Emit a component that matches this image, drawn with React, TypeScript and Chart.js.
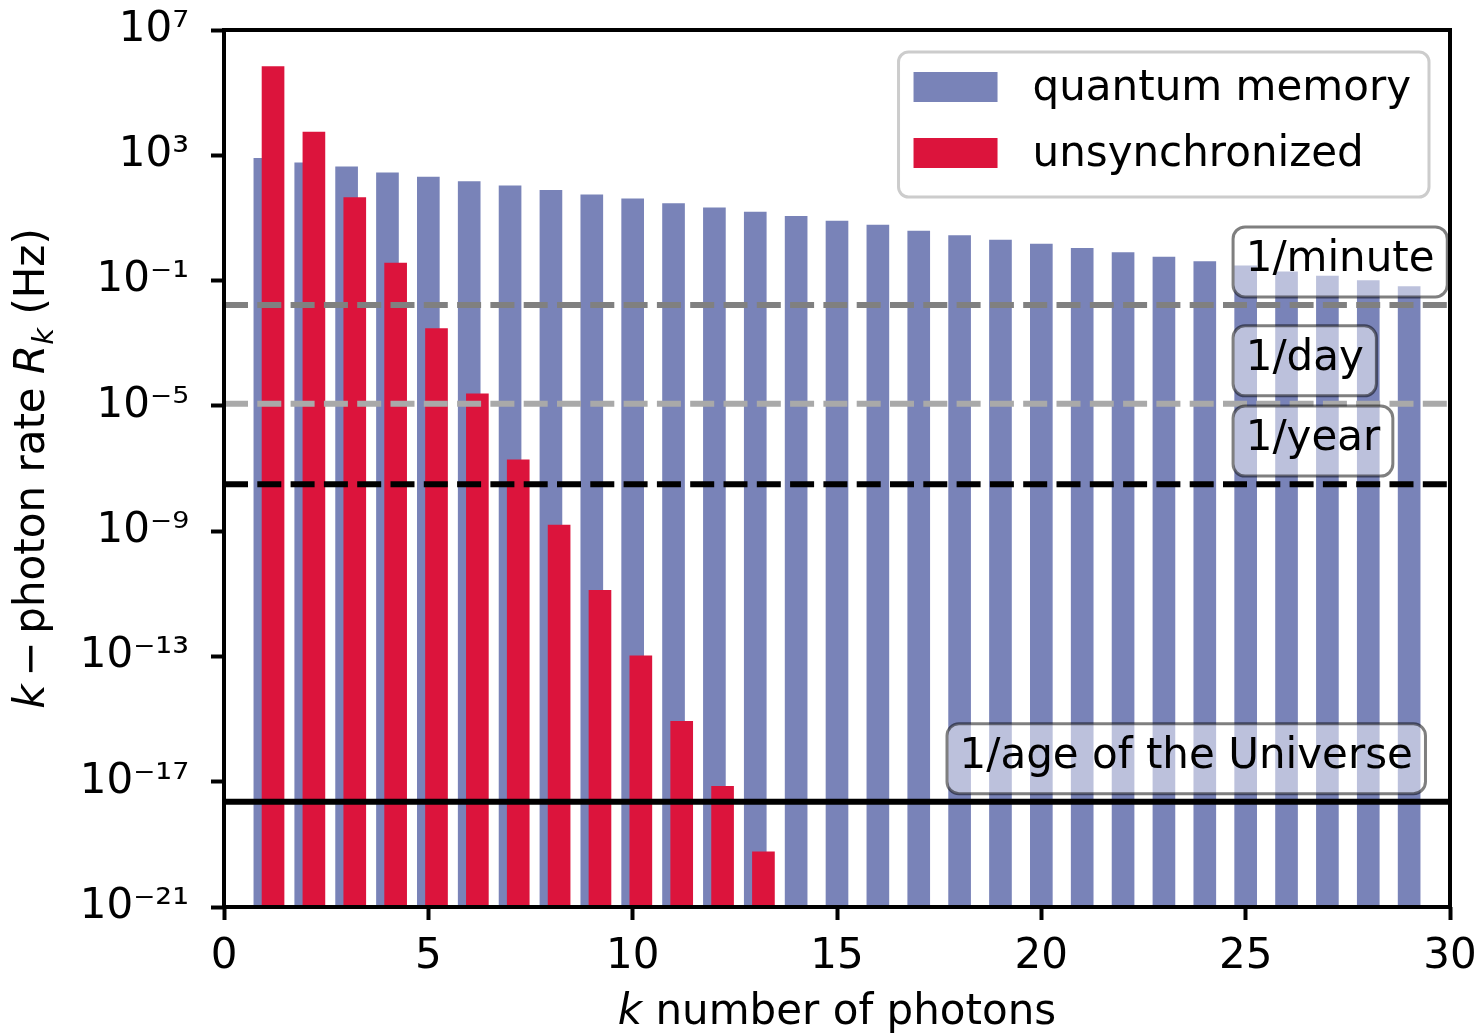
import React, { useEffect, useRef } from "react";
import { Chart, registerables } from "chart.js";

Chart.register(...registerables);

// ---------- data ----------
const photonNumbers = [1, 2, 3, 4, 5, 6, 7, 8, 9, 10, 11, 12, 13, 14, 15, 16, 17, 18, 19, 20, 21, 22, 23, 24, 25, 26, 27, 28, 29];
const quantumMemoryRates = [794, 575, 427, 275, 200, 145, 105, 75.9, 55, 40.7, 28.8, 20.9, 15.5, 11.2, 7.94, 5.89, 3.8, 2.75, 1.95, 1.45, 1.07, 0.776, 0.562, 0.407, 0.295, 0.19, 0.138, 0.1, 0.0646];
const unsynchronizedPhotonNumbers = [1, 2, 3, 4, 5, 6, 7, 8, 9, 10, 11, 12, 13];
const unsynchronizedRates = [6.8e5, 5.5e3, 45, 0.36, 2.95e-3, 2.4e-5, 1.9e-7, 1.55e-9, 1.29e-11, 1.05e-13, 8.5e-16, 7.1e-18, 5.75e-20];
const unsynchronizedShift = 0.2;

const seriesNames = ["quantum memory", "unsynchronized"];

const xTickValues = [0, 5, 10, 15, 20, 25, 30];
const yTickValues = [1e7, 1e3, 1e-1, 1e-5, 1e-9, 1e-13, 1e-17, 1e-21];
const yTickLabels = ["10⁷", "10³", "10⁻¹", "10⁻⁵", "10⁻⁹", "10⁻¹³", "10⁻¹⁷", "10⁻²¹"];

const thresholdNames = ["1/minute", "1/day", "1/year", "1/age of the Universe"];
const thresholdRates = [1 / 60, 1 / 86400, 1 / 31557600, 1 / 4.35e17];
const thresholdLabelX = [25, 25, 25, 18];

const xTitleParts = [
  { text: "k", italic: true },
  { text: " number of photons", italic: false },
];
const yTitleParts = [
  { text: "k", italic: true, sub: false },
  { text: " − ", italic: false, sub: false, narrow: true },
  { text: "photon rate ", italic: false, sub: false },
  { text: "R", italic: true, sub: false },
  { text: "k", italic: true, sub: true },
  { text: " (Hz)", italic: false, sub: false },
];

// ---------- styles ----------
const FAMILY = '"DejaVu Sans", sans-serif';
const FONT_SIZE = 42;
const BLUE = "#7983B8";
const RED = "#DC143C";
const thresholdColors = ["#808080", "#A9A9A9", "#000000", "#000000"];
const thresholdDashes = [[24, 9.3], [24, 9.3], [24, 9.3], []];
const LABEL_LIFT = 12.2; // label baseline placed at rate * this factor

function roundRectPath(ctx: CanvasRenderingContext2D, x: number, y: number, w: number, h: number, r: number) {
  ctx.beginPath();
  ctx.moveTo(x + r, y);
  ctx.lineTo(x + w - r, y);
  ctx.arcTo(x + w, y, x + w, y + r, r);
  ctx.lineTo(x + w, y + h - r);
  ctx.arcTo(x + w, y + h, x + w - r, y + h, r);
  ctx.lineTo(x + r, y + h);
  ctx.arcTo(x, y + h, x, y + h - r, r);
  ctx.lineTo(x, y + r);
  ctx.arcTo(x, y, x + r, y, r);
  ctx.closePath();
}

const overlayPlugin = {
  id: "overlay",
  afterDatasetsDraw(chart: any) {
    const { ctx, chartArea: a, scales } = chart;
    const xs = scales.x;
    const ys = scales.y;
    ctx.save();

    // threshold lines
    ctx.save();
    ctx.beginPath();
    ctx.rect(a.left, a.top, a.right - a.left, a.bottom - a.top);
    ctx.clip();
    thresholdRates.forEach((rate, i) => {
      const y = ys.getPixelForValue(rate);
      ctx.strokeStyle = thresholdColors[i];
      ctx.lineWidth = 6;
      ctx.lineCap = "butt";
      ctx.setLineDash(thresholdDashes[i]);
      ctx.lineDashOffset = 0;
      ctx.beginPath();
      ctx.moveTo(a.left, y);
      ctx.lineTo(a.right, y);
      ctx.stroke();
    });
    ctx.restore();

    // frame
    ctx.setLineDash([]);
    ctx.strokeStyle = "#000";
    ctx.lineWidth = 4;
    ctx.strokeRect(a.left, a.top, a.right - a.left, a.bottom - a.top);

    // threshold labels
    ctx.font = `${FONT_SIZE}px ${FAMILY}`;
    ctx.textAlign = "left";
    ctx.textBaseline = "alphabetic";
    thresholdNames.forEach((name, i) => {
      const x = xs.getPixelForValue(thresholdLabelX[i]);
      const base = ys.getPixelForValue(thresholdRates[i] * LABEL_LIFT);
      const w = ctx.measureText(name).width;
      roundRectPath(ctx, x - 12.6, base - 44, w + 25.2, 70, 12);
      ctx.fillStyle = "rgba(255,255,255,0.5)";
      ctx.fill();
      ctx.strokeStyle = "rgba(0,0,0,0.5)";
      ctx.lineWidth = 3;
      ctx.stroke();
      ctx.fillStyle = "#000";
      ctx.fillText(name, x, base);
    });

    // legend
    const colors = [BLUE, RED];
    const textW = Math.max(...seriesNames.map((n) => ctx.measureText(n).width));
    const lw = 15 + 84 + 35 + textW + 18;
    const lh = 145;
    const lx = a.right - 21 - lw;
    const ly = a.top + 22;
    roundRectPath(ctx, lx, ly, lw, lh, 10);
    ctx.fillStyle = "rgba(255,255,255,0.8)";
    ctx.fill();
    ctx.strokeStyle = "#cccccc";
    ctx.lineWidth = 3;
    ctx.stroke();
    seriesNames.forEach((name, i) => {
      const cy = ly + 35 + i * 66;
      ctx.fillStyle = colors[i];
      ctx.fillRect(lx + 15, cy - 15, 84, 30);
      ctx.fillStyle = "#000";
      ctx.fillText(name, lx + 15 + 84 + 35, cy + 13);
    });

    ctx.restore();
  },
  afterDraw(chart: any) {
    const { ctx, chartArea: a } = chart;
    ctx.save();
    ctx.fillStyle = "#000";
    ctx.textAlign = "left";
    ctx.textBaseline = "alphabetic";

    const fontFor = (italic: boolean, sub: boolean) =>
      `${italic ? "italic " : ""}${sub ? Math.round(FONT_SIZE * 0.7) : FONT_SIZE}px ${FAMILY}`;

    // x title
    let total = 0;
    xTitleParts.forEach((p) => {
      ctx.font = fontFor(p.italic, false);
      total += ctx.measureText(p.text).width;
    });
    let cx = (a.left + a.right) / 2 - total / 2;
    xTitleParts.forEach((p) => {
      ctx.font = fontFor(p.italic, false);
      ctx.fillText(p.text, cx, 1024);
      cx += ctx.measureText(p.text).width;
    });

    // y title
    const adv = (p: any) => {
      ctx.font = fontFor(p.italic, p.sub);
      const w = ctx.measureText(p.text).width;
      return p.narrow ? w * 0.82 : w;
    };
    total = 0;
    yTitleParts.forEach((p) => {
      total += adv(p);
    });
    ctx.translate(44, (a.top + a.bottom) / 2);
    ctx.rotate(-Math.PI / 2);
    let px = -total / 2;
    yTitleParts.forEach((p: any) => {
      const w = adv(p);
      ctx.font = fontFor(p.italic, p.sub);
      const full = ctx.measureText(p.text).width;
      ctx.fillText(p.text, px - (full - w) / 2, p.sub ? 9 : 0);
      px += w;
    });
    ctx.restore();
  },
};

const tickFont = { family: "DejaVu Sans", size: FONT_SIZE };

export default function App() {
  const canvasRef = useRef<HTMLCanvasElement>(null);

  useEffect(() => {
    const canvas = canvasRef.current;
    if (!canvas) return;
    const chart = new Chart(canvas, {
      type: "bar",
      data: {
        datasets: [
          {
            label: seriesNames[0],
            data: photonNumbers.map((k, i) => ({ x: k, y: quantumMemoryRates[i] })),
            backgroundColor: BLUE,
            borderWidth: 0,
            grouped: false,
            barThickness: 22,
            order: 2,
          },
          {
            label: seriesNames[1],
            data: unsynchronizedPhotonNumbers.map((k, i) => ({ x: k + unsynchronizedShift, y: unsynchronizedRates[i] })),
            backgroundColor: RED,
            borderWidth: 0,
            grouped: false,
            barThickness: 22,
            order: 1,
          },
        ],
      } as any,
      options: {
        responsive: false,
        animation: false,
        layout: { padding: { top: 30, right: 28, left: 0, bottom: 0 } },
        plugins: { legend: { display: false }, tooltip: { enabled: false } },
        scales: {
          x: {
            type: "linear",
            min: 0,
            max: 30,
            offset: false,
            afterBuildTicks: (s: any) => {
              s.ticks = xTickValues.map((v) => ({ value: v }));
            },
            ticks: {
              font: tickFont,
              color: "#000",
              padding: 12,
              autoSkip: false,
              maxRotation: 0,
              callback: (v: any) => String(v),
            },
            grid: {
              display: true,
              drawOnChartArea: false,
              drawTicks: true,
              tickLength: 13,
              tickWidth: 4,
              tickColor: "#000",
              offset: false,
            },
            border: { display: false },
            afterFit: (s: any) => {
              s.height = 126;
              s.paddingLeft = 0;
              s.paddingRight = 0;
              s.paddingTop = 0;
              s.paddingBottom = 0;
            },
          },
          y: {
            type: "logarithmic",
            min: 1e-21,
            max: 1e7,
            afterBuildTicks: (s: any) => {
              s.ticks = yTickValues.map((v) => ({ value: v }));
            },
            ticks: {
              font: tickFont,
              color: "#000",
              padding: 22,
              autoSkip: false,
              callback: (v: any) => yTickLabels[yTickValues.indexOf(Number(v))] ?? "",
            },
            grid: {
              display: true,
              drawOnChartArea: false,
              drawTicks: true,
              tickLength: 13,
              tickWidth: 4,
              tickColor: "#000",
            },
            border: { display: false },
            afterFit: (s: any) => {
              s.width = 224;
              s.paddingLeft = 0;
              s.paddingRight = 0;
              s.paddingTop = 0;
              s.paddingBottom = 0;
            },
          },
        },
      } as any,
      plugins: [overlayPlugin],
    });
    return () => chart.destroy();
  }, []);

  return (
    <div style={{ position: "fixed", left: 0, top: 0, width: 1478, height: 1033, background: "#fff" }}>
      <canvas ref={canvasRef} width={1478} height={1033} style={{ display: "block", width: 1478, height: 1033 }} />
    </div>
  );
}
